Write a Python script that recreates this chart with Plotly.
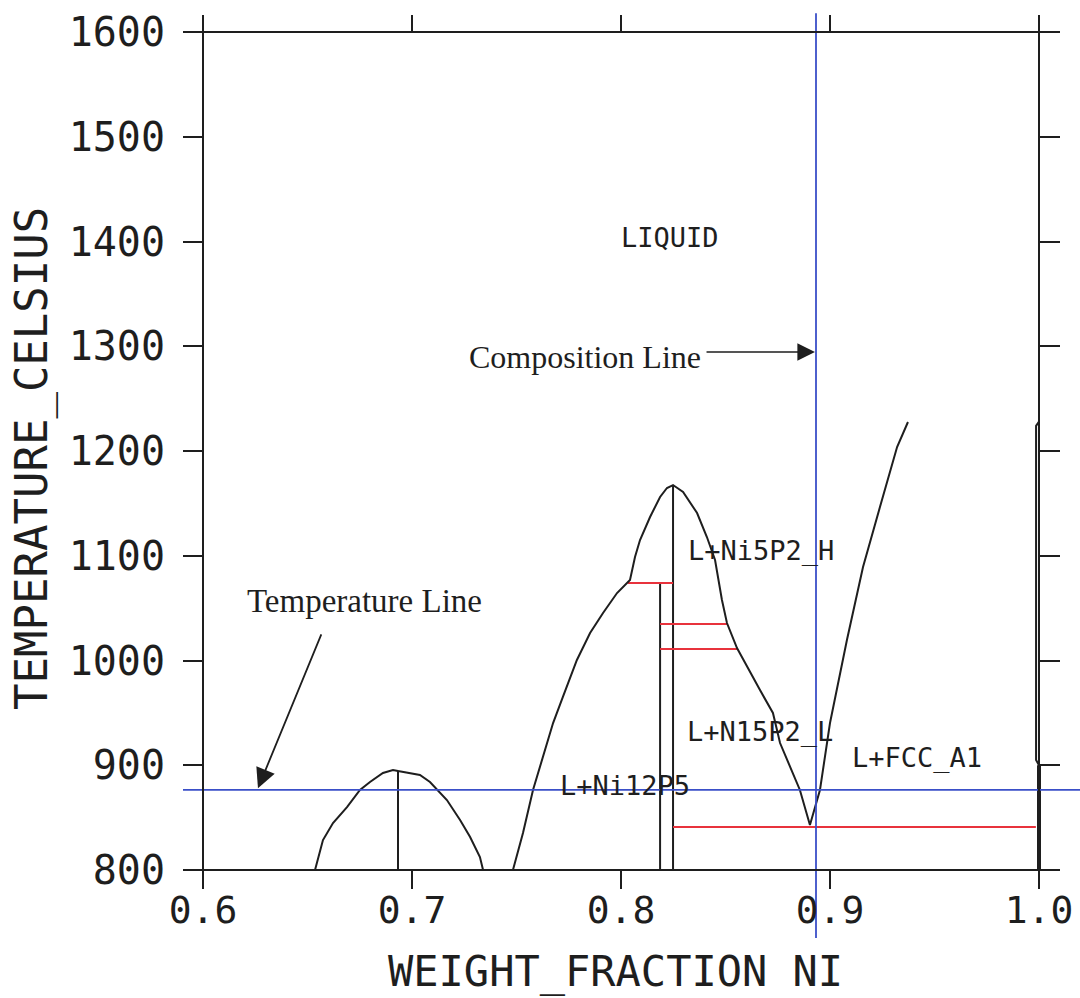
import plotly.graph_objects as go

# ---------------- data ----------------
# small dome on the left
dome_x = [0.6536, 0.6574, 0.6622, 0.6689, 0.6751, 0.6799, 0.6861, 0.6909, 0.6933,
          0.6990, 0.7038, 0.7086, 0.7120, 0.7167, 0.7230, 0.7278, 0.7325, 0.7340]
dome_T = [800, 828.6, 844.9, 860.1, 876.4, 884.0, 892.6, 895.5, 894.5,
          892.6, 890.7, 884.0, 876.4, 866.8, 847.7, 831.5, 812.4, 800]

# liquidus: Ni12P5 / Ni5P2 region, eutectic V, FCC liquidus
liq_x = [0.7483, 0.7531, 0.7579, 0.7627, 0.7675, 0.7722, 0.7789, 0.7852, 0.7914, 0.7981,
         0.8033, 0.8043, 0.8067, 0.8091, 0.8139, 0.8187, 0.8220, 0.8249, 0.8297, 0.8364,
         0.8411, 0.8450, 0.8483, 0.8507, 0.8555, 0.8603, 0.8665, 0.8727, 0.8761, 0.8856,
         0.8904, 0.8952, 0.9000, 0.9081, 0.9158, 0.9239, 0.9321, 0.9373]
liq_T = [800, 835.3, 876.4, 907.9, 940.3, 965.2, 1000.5, 1026.3, 1045.3, 1064.4,
         1074.0, 1076.8, 1098.8, 1115.0, 1137.0, 1156.1, 1164.7, 1167.5, 1160.9, 1140.8,
         1117.9, 1095.9, 1057.8, 1035.8, 1011.9, 993.8, 971.8, 949.9, 921.2, 876.4,
         843.0, 876.4, 940.3, 1019.6, 1089.3, 1146.5, 1203.8, 1227.7]

# compound (vertical) lines
comp_x = [0.6933, 0.8187, 0.8249]
comp_top = [895.0, 1074.0, 1167.5]

# red tie-lines
tie_T = [1074.0, 1034.8, 1011.0, 841.0]
tie_x0 = [0.8033, 0.8187, 0.8187, 0.8249]
tie_x1 = [0.8249, 0.8507, 0.8555, 0.9985]

# FCC solidus lens near pure Ni
fcc_x = [1.0, 0.9986, 0.9986, 1.0]
fcc_T = [1228.0, 1224.0, 905.0, 900.0]

# composition / temperature lines
comp_line_x = 0.8933
comp_line_T = [735.0, 1618.0]
temp_line_T = 876.4

x_ticks = [0.6, 0.7, 0.8, 0.9, 1.0]
x_tick_text = ["0.6", "0.7", "0.8", "0.9", "1.0"]
y_ticks = [800, 900, 1000, 1100, 1200, 1300, 1400, 1500, 1600]

# ---------------- geometry ----------------
W, H = 1080, 998
L_M, R_M, T_M, B_M = 183, 0, 6, 49
X0_PX, X1_PX = 203, 1039     # pixel of 0.6 and 1.0
Y0_PX, Y1_PX = 870, 32       # pixel of 800 and 1600
ppx = (X1_PX - X0_PX) / 0.4
ppy = (Y0_PX - Y1_PX) / 800.0
X_LO = 0.6 - (X0_PX - L_M) / ppx
X_HI = 0.6 + (W - R_M - X0_PX) / ppx
Y_HI = 1600 + (Y1_PX - T_M) / ppy
Y_LO = 800 - (H - B_M - Y0_PX) / ppy

def py(v):
    return (v - Y_LO) / (Y_HI - Y_LO)

def px(v):
    return (v - X_LO) / (X_HI - X_LO)

BLACK = "#1e1e1e"
RED = "#e8323c"
BLUE = "#3a4fc8"
MONO = "DejaVu Sans Mono"
SERIF = "Liberation Serif"

fig = go.Figure()

# compound vertical lines
vx, vy = [], []
for x, t in zip(comp_x, comp_top):
    vx += [x, x, None]
    vy += [800, t, None]
fig.add_trace(go.Scatter(x=vx, y=vy, mode="lines", line=dict(color=BLACK, width=2),
                         hoverinfo="skip", showlegend=False))

# tie lines
rx, ry = [], []
for a, b, t in zip(tie_x0, tie_x1, tie_T):
    rx += [a, b, None]
    ry += [t, t, None]
fig.add_trace(go.Scatter(x=rx, y=ry, mode="lines", line=dict(color=RED, width=2),
                         hoverinfo="skip", showlegend=False))

fig.add_trace(go.Scatter(x=dome_x, y=dome_T, mode="lines", line=dict(color=BLACK, width=2),
                         hoverinfo="skip", showlegend=False))
fig.add_trace(go.Scatter(x=liq_x, y=liq_T, mode="lines", line=dict(color=BLACK, width=2),
                         hoverinfo="skip", showlegend=False))
fig.add_trace(go.Scatter(x=fcc_x, y=fcc_T, mode="lines", line=dict(color=BLACK, width=2),
                         hoverinfo="skip", showlegend=False))
fig.add_trace(go.Scatter(x=[1.0, 1.0], y=[800, fcc_T[-1]], mode="lines",
                         line=dict(color=BLACK, width=4), hoverinfo="skip", showlegend=False))

# blue lines
fig.add_trace(go.Scatter(x=[X_LO, X_HI], y=[temp_line_T, temp_line_T], mode="lines",
                         line=dict(color=BLUE, width=1.8), hoverinfo="skip", showlegend=False))
fig.add_trace(go.Scatter(x=[comp_line_x, comp_line_x], y=comp_line_T, mode="lines",
                         line=dict(color=BLUE, width=1.8), hoverinfo="skip", showlegend=False,
                         xaxis="x2", yaxis="y2"))

# frame
fig.add_shape(type="rect", xref="x", yref="y", x0=0.6, x1=1.0, y0=800, y1=1600,
              line=dict(color=BLACK, width=2), layer="above")

ann = []
def lab(text, x, y, size=27, family=MONO):
    ann.append(dict(text=text, x=x, y=y, xref="x", yref="y", showarrow=False,
                    font=dict(family=family, size=size, color=BLACK),
                    xanchor="center", yanchor="middle"))

lab("LIQUID", 0.8234, 1404)
lab("L+Ni5P2_H", 0.8670, 1105)
lab("L+N15P2_L", 0.8665, 932)
lab("L+FCC_A1", 0.9416, 907)
lab("L+Ni12P5", 0.8019, 881)
lab("Composition Line", 0.7828, 1290, size=32, family=SERIF)
lab("Temperature Line", 0.6775, 1057, size=33, family=SERIF)

# arrows
ann.append(dict(text="", x=0.8928, y=1294.5, ax=0.8402, ay=1294.5, xref="x", yref="y",
                axref="x", ayref="y", showarrow=True, arrowhead=2, arrowsize=2.2,
                arrowwidth=1.6, arrowcolor=BLACK))
ann.append(dict(text="", x=0.6263, y=878, ax=0.6569, ay=1026.3, xref="x", yref="y",
                axref="x", ayref="y", showarrow=True, arrowhead=2, arrowsize=2.2,
                arrowwidth=1.8, arrowcolor=BLACK))

# axis titles
ann.append(dict(text="WEIGHT_FRACTION NI", x=(615 - L_M) / (W - L_M - R_M),
                y=(H - B_M - 971) / (H - T_M - B_M), xref="paper", yref="paper",
                showarrow=False, font=dict(family=MONO, size=42, color=BLACK),
                xanchor="center", yanchor="middle"))
ann.append(dict(text="TEMPERATURE_CELSIUS", x=(32 - L_M) / (W - L_M - R_M),
                y=(H - B_M - 459) / (H - T_M - B_M), xref="paper", yref="paper",
                showarrow=False, textangle=-90, font=dict(family=MONO, size=44, color=BLACK),
                xanchor="center", yanchor="middle"))

axis_common = dict(showgrid=False, zeroline=False, showline=False, ticks="outside",
                   tickcolor=BLACK, tickwidth=2)

fig.update_layout(
    width=W, height=H, margin=dict(l=L_M, r=R_M, t=T_M, b=B_M),
    paper_bgcolor="white", plot_bgcolor="white", showlegend=False,
    xaxis=dict(range=[X_LO, X_HI], anchor="free", position=py(800), tickvals=x_ticks,
               ticktext=x_tick_text, ticklen=18, ticklabelstandoff=-12,
               tickfont=dict(family=MONO, size=38, color=BLACK), **axis_common),
    yaxis=dict(range=[Y_LO, Y_HI], anchor="free", position=px(0.6), tickvals=y_ticks,
               ticklen=20, ticklabelstandoff=10,
               tickfont=dict(family=MONO, size=40, color=BLACK), **axis_common),
    xaxis2=dict(range=[X_LO, X_HI], overlaying="x", anchor="free", position=py(1600),
                side="top", tickvals=x_ticks, ticklen=17, showticklabels=False, **axis_common),
    yaxis2=dict(range=[Y_LO, Y_HI], overlaying="y", anchor="free", position=px(1.0),
                side="right", tickvals=y_ticks, ticklen=20, showticklabels=False, **axis_common),
    annotations=ann,
)

fig.write_html("out.html")
